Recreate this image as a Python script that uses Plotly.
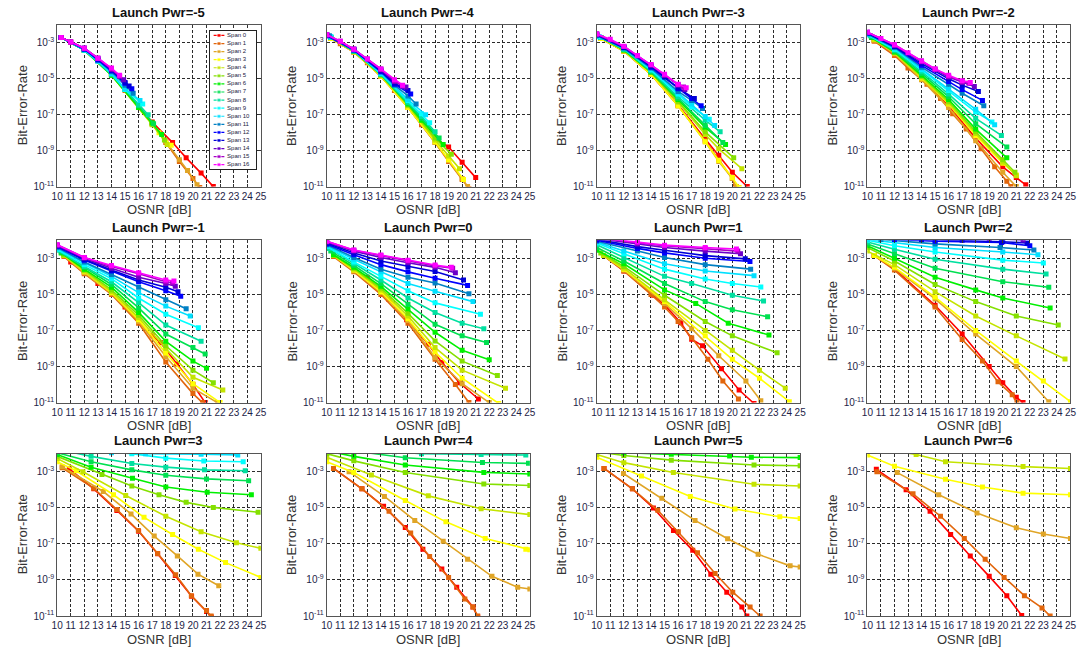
import plotly.graph_objects as go

FIG_W, FIG_H = 1089, 659

LAUNCH_POWERS = [-5, -4, -3, -2, -1, 0, 1, 2, 3, 4, 5, 6]
SPAN_LABELS = ["Span %d" % i for i in range(17)]
SPAN_COLORS = ["#ff0000", "#e2660c", "#e0a526", "#ffff00", "#c4e400", "#84e000",
               "#00f000", "#00e050", "#00e0a0", "#00ffff", "#00e0ff", "#0080c4",
               "#0000ff", "#0000d8", "#6a00c8", "#a800c8", "#ff00ff"]
X_TICKS = list(range(10, 26))
Y_TICK_EXPONENTS = [-11, -9, -7, -5, -3]

# ---------------- data: OSNR [dB] and log10(BER), one list per span (0..16) ----------------
OSNR_PM5 = [
    [10.3, 12, 14, 16, 17, 18.5, 19.5, 20.6, 21.5],
    [10.3, 11, 12, 13, 14, 15, 16, 17, 18, 19, 20, 20.5],
    [10.3, 12, 14, 16, 17, 18, 19, 19.6, 20.3],
    [10.3, 12, 14, 16, 17, 17.5, 18.4],
    [10.3, 12, 14, 16, 17, 18.1],
    [10.3, 12, 14, 16, 17, 17.9],
    [10.3, 12, 14, 16, 17, 17.7],
    [10.3, 12, 14, 15, 16, 17.1],
    [10.3, 12, 14, 15, 16, 16.7],
    [10.3, 12, 13, 14, 15, 16.3],
    [10.3, 12, 13, 14, 15, 16.1],
    [10.3, 12, 13, 14, 15, 15.6],
    [10.3, 12, 13, 14, 15, 15.5],
    [10.3, 12, 13, 14, 15, 15.3],
    [10.3, 11, 12, 13, 14, 14.9],
    [10.3, 11, 12, 13, 14, 14.6],
    [10.3, 11, 12, 13, 14, 14.6],
]
LOGBER_PM5 = [
    [-2.7, -3.4, -4.75, -6.55, -7.4, -8.55, -9.4, -10.25, -11.0],
    [-2.7, -2.95, -3.4, -4.0, -4.75, -5.65, -6.6, -7.5, -8.55, -9.6, -10.55, -11.05],
    [-2.7, -3.4, -4.75, -6.6, -7.5, -8.5, -9.5, -10.1, -10.9],
    [-2.7, -3.4, -4.75, -6.55, -7.5, -8.0, -8.7],
    [-2.7, -3.4, -4.8, -6.6, -7.55, -8.65],
    [-2.7, -3.4, -4.8, -6.6, -7.5, -8.4],
    [-2.7, -3.4, -4.8, -6.6, -7.45, -8.1],
    [-2.7, -3.4, -4.75, -5.6, -6.5, -7.5],
    [-2.7, -3.4, -4.75, -5.6, -6.45, -7.0],
    [-2.7, -3.4, -4.0, -4.7, -5.6, -6.4],
    [-2.7, -3.4, -4.0, -4.7, -5.55, -6.2],
    [-2.7, -3.35, -3.95, -4.6, -5.35, -5.8],
    [-2.7, -3.35, -3.95, -4.55, -5.25, -5.55],
    [-2.7, -3.3, -3.9, -4.5, -5.2, -5.4],
    [-2.7, -2.95, -3.3, -3.85, -4.45, -5.05],
    [-2.7, -2.95, -3.3, -3.85, -4.45, -4.85],
    [-2.7, -2.95, -3.3, -3.85, -4.4, -4.8],
]

OSNR_PM4 = [
    [10.3, 12, 14, 16, 17, 18, 19, 20, 21],
    [10.3, 11, 12, 13, 14, 15, 16, 17, 18, 19, 20, 20.5],
    [10.3, 12, 14, 16, 18, 19, 20, 20.4],
    [10.3, 12, 14, 16, 18, 19, 20.1],
    [10.3, 12, 14, 16, 18, 19, 19.8],
    [10.3, 12, 14, 16, 18, 19.2],
    [10.3, 12, 14, 16, 17, 18.6],
    [10.3, 12, 14, 16, 17, 18.3],
    [10.3, 12, 14, 16, 17, 18],
    [10.3, 12, 14, 16, 17, 17.6],
    [10.3, 12, 14, 16, 17.3],
    [10.2, 12, 14, 15, 16, 16.6],
    [10, 12, 14, 15, 16.2],
    [10, 12, 14, 15, 16],
    [10, 12, 14, 15, 15.85],
    [10, 11, 12, 13, 14, 15, 15.6],
    [10, 11, 12, 13, 14, 15, 15.6],
]
LOGBER_PM4 = [
    [-2.75, -3.5, -4.85, -6.55, -7.45, -8.3, -8.8, -9.65, -10.5],
    [-2.75, -3.05, -3.5, -4.1, -4.85, -5.65, -6.6, -7.55, -8.55, -9.6, -10.6, -11.1],
    [-2.75, -3.5, -4.85, -6.6, -8.55, -9.55, -10.55, -11.0],
    [-2.75, -3.5, -4.85, -6.6, -8.5, -9.5, -10.6],
    [-2.7, -3.45, -4.8, -6.5, -8.4, -9.3, -10.0],
    [-2.7, -3.45, -4.8, -6.45, -8.3, -9.2],
    [-2.7, -3.45, -4.75, -6.4, -7.3, -8.65],
    [-2.7, -3.45, -4.75, -6.35, -7.2, -8.3],
    [-2.7, -3.45, -4.75, -6.3, -7.1, -7.95],
    [-2.65, -3.4, -4.7, -6.2, -6.95, -7.45],
    [-2.65, -3.4, -4.7, -6.15, -7.0],
    [-2.6, -3.4, -4.6, -5.35, -5.95, -6.4],
    [-2.6, -3.4, -4.6, -5.3, -5.85],
    [-2.55, -3.35, -4.55, -5.25, -5.65],
    [-2.55, -3.35, -4.5, -5.15, -5.45],
    [-2.55, -2.9, -3.35, -3.9, -4.45, -5.1, -5.4],
    [-2.55, -2.9, -3.35, -3.9, -4.45, -5.05, -5.35],
]

OSNR_PM3 = [
    [10.3, 12, 14, 16, 18, 19, 20, 21.1],
    [10.3, 12, 14, 16, 18, 19, 20, 20.2],
    [10.3, 12, 14, 16, 18, 19, 20, 20.3],
    [10.3, 12, 14, 16, 18, 19, 20, 20.5],
    [10.3, 12, 14, 16, 18, 19, 20.7],
    [10.3, 12, 14, 16, 18, 20.1],
    [10.3, 12, 14, 16, 18, 19.5],
    [10.3, 12, 14, 16, 18, 19.3],
    [10.3, 12, 14, 16, 18, 19.1],
    [10.2, 12, 14, 16, 17, 18.3],
    [10, 12, 14, 16, 17, 18, 18.7],
    [10, 12, 14, 16, 17, 17.8],
    [10, 12, 14, 16, 17, 17.7],
    [10, 12, 14, 15, 16, 17.2],
    [10, 12, 14, 15, 16, 16.5],
    [10, 12, 13, 14, 15, 16, 16.4],
    [10, 11, 12, 13, 14, 15, 16, 16.6],
]
LOGBER_PM3 = [
    [-2.75, -3.45, -4.75, -6.45, -8.35, -9.25, -10.2, -11.0],
    [-2.75, -3.45, -4.75, -6.5, -8.45, -9.5, -10.55, -11.0],
    [-2.75, -3.45, -4.75, -6.5, -8.5, -9.6, -10.55, -11.0],
    [-2.75, -3.45, -4.75, -6.5, -8.5, -9.55, -10.5, -11.05],
    [-2.7, -3.4, -4.65, -6.3, -8.1, -8.9, -10.0],
    [-2.7, -3.4, -4.65, -6.25, -7.95, -9.4],
    [-2.7, -3.4, -4.6, -6.15, -7.7, -8.65],
    [-2.7, -3.35, -4.6, -6.1, -7.6, -8.55],
    [-2.7, -3.35, -4.55, -6.0, -7.3, -7.95],
    [-2.65, -3.3, -4.5, -5.85, -6.55, -7.25],
    [-2.6, -3.3, -4.45, -5.75, -6.4, -7.1, -7.6],
    [-2.6, -3.3, -4.4, -5.7, -6.2, -6.65],
    [-2.55, -3.25, -4.35, -5.55, -6.1, -6.5],
    [-2.55, -3.25, -4.3, -4.9, -5.5, -6.1],
    [-2.5, -3.2, -4.25, -4.8, -5.35, -5.6],
    [-2.5, -3.2, -3.72, -4.22, -4.78, -5.32, -5.45],
    [-2.5, -2.8, -3.18, -3.7, -4.2, -4.75, -5.3, -5.5],
]

OSNR_PM2 = [
    [10.5, 12, 14, 16, 18, 20, 21, 21.7],
    [10.5, 12, 13, 14.4, 15.4, 16.3, 17.3, 18.4, 19.4, 20.3, 20.6],
    [10.5, 12, 14, 16, 18, 20, 21.0],
    [10.5, 12, 14, 16, 18, 20, 21.0],
    [10.5, 12, 14, 16, 18, 20, 21.0],
    [10.3, 12, 14, 16, 18, 20, 20.9],
    [10.3, 12, 14, 16, 18, 20.3],
    [10.3, 12, 14, 16, 18, 20.3],
    [10.2, 12, 14, 16, 18, 19.9],
    [10, 12, 14, 16, 18, 19.2],
    [10, 12, 14, 16, 18, 19.4],
    [10, 12, 14, 16, 17, 18.6],
    [10, 12, 14, 16, 17, 18.5],
    [10, 12, 14, 16, 17, 18.2],
    [10, 12, 14, 15, 16, 17, 17.9],
    [10, 12, 14, 15, 16, 17, 17.5],
    [10, 11, 12, 13, 14, 15, 16, 17, 17.6],
]
LOGBER_PM2 = [
    [-2.85, -3.6, -5.0, -6.5, -8.3, -9.9, -10.5, -10.9],
    [-2.9, -3.7, -4.4, -5.3, -6.1, -6.95, -7.8, -8.9, -9.9, -10.7, -11.0],
    [-2.85, -3.6, -5.05, -6.6, -8.45, -10.2, -11.0],
    [-2.8, -3.55, -4.95, -6.4, -8.15, -9.7, -10.35],
    [-2.8, -3.55, -4.9, -6.35, -8.05, -9.65, -10.4],
    [-2.7, -3.5, -4.85, -6.25, -7.95, -9.5, -10.2],
    [-2.7, -3.5, -4.8, -6.15, -7.8, -9.4],
    [-2.65, -3.45, -4.7, -6.0, -7.5, -8.8],
    [-2.6, -3.4, -4.6, -5.85, -7.2, -8.15],
    [-2.55, -3.35, -4.5, -5.65, -6.85, -7.4],
    [-2.5, -3.3, -4.45, -5.55, -6.7, -7.55],
    [-2.5, -3.25, -4.35, -5.3, -5.8, -6.5],
    [-2.45, -3.2, -4.25, -5.15, -5.6, -6.2],
    [-2.45, -3.2, -4.15, -5.0, -5.35, -5.7],
    [-2.4, -3.15, -4.05, -4.5, -4.9, -5.2, -5.43],
    [-2.4, -3.1, -4.0, -4.45, -4.85, -5.15, -5.25],
    [-2.4, -2.75, -3.1, -3.55, -4.0, -4.45, -4.8, -5.1, -5.2],
]

OSNR_PM1 = [
    [10.5, 11, 12, 13, 14, 15, 16, 17, 17.6, 18.8, 20, 20.9],
    [10.5, 12, 14, 16, 18, 20, 20.7],
    [10.5, 12, 14, 16, 18, 20, 21.8],
    [10.5, 12, 14, 16, 18, 20, 22],
    [10.5, 12, 14, 16, 18, 20, 22.2],
    [10.5, 12, 14, 16, 18, 20, 21.5],
    [10.3, 12, 14, 16, 18, 20, 21],
    [10.3, 12, 14, 16, 18, 20, 20.9],
    [10, 12, 14, 16, 18, 20.6],
    [10, 12, 14, 16, 18, 20.4],
    [10, 12, 14, 16, 18, 19.8],
    [10, 12, 14, 16, 18, 19.5],
    [10, 12, 14, 16, 18, 19.1],
    [10, 12, 14, 16, 18, 18.9],
    [10, 12, 14, 16, 18, 18.7],
    [10, 12, 14, 16, 18, 18.5],
    [10, 12, 14, 16, 18, 18.6],
]
LOGBER_PM1 = [
    [-2.85, -3.2, -3.8, -4.4, -4.95, -5.7, -6.5, -7.3, -7.67, -8.86, -10.0, -11.0],
    [-2.9, -3.85, -5.0, -6.6, -8.75, -10.5, -11.0],
    [-2.85, -3.8, -4.95, -6.5, -8.45, -10.2, -11.0],
    [-2.85, -3.75, -4.9, -6.4, -8.25, -9.95, -11.0],
    [-2.85, -3.7, -4.85, -6.3, -8.0, -9.6, -10.3],
    [-2.8, -3.65, -4.75, -6.15, -7.85, -9.2, -9.9],
    [-2.7, -3.6, -4.6, -6.0, -7.6, -8.7, -9.1],
    [-2.65, -3.5, -4.45, -5.75, -7.2, -7.95, -8.3],
    [-2.55, -3.45, -4.3, -5.45, -6.7, -7.6],
    [-2.5, -3.35, -4.13, -5.2, -6.1, -6.85],
    [-2.45, -3.25, -4.0, -4.9, -5.65, -6.2],
    [-2.4, -3.2, -3.9, -4.6, -5.3, -5.8],
    [-2.35, -3.1, -3.7, -4.3, -4.8, -5.1],
    [-2.3, -3.05, -3.65, -4.2, -4.6, -4.85],
    [-2.3, -3.0, -3.55, -4.05, -4.4, -4.55],
    [-2.25, -2.95, -3.45, -3.85, -4.3, -4.35],
    [-2.25, -2.95, -3.4, -3.8, -4.2, -4.26],
]

OSNR_P0 = [
    [10.5, 12, 13, 14.6, 15.9, 17.5, 18.5, 19.8, 21.2],
    [10.5, 12, 14, 16, 18, 19.5, 20.5],
    [10.5, 12, 14, 16, 18, 20, 22],
    [10.5, 12, 14, 16, 18, 20, 22.7],
    [10.5, 12, 14, 16, 18, 20, 23.2],
    [10.5, 12, 14, 16, 18, 20, 22.6],
    [10.5, 12, 14, 16, 18, 20, 22],
    [10.3, 12, 14, 16, 18, 20, 21.8],
    [10.2, 12, 14, 16, 18, 20, 21.6],
    [10, 12, 14, 16, 18, 21.35],
    [10, 12, 14, 16, 18, 20.8],
    [10, 12, 14, 16, 18, 20.5],
    [10, 12, 14, 16, 18, 20.4],
    [10, 12, 14, 16, 18, 20.1],
    [10, 12, 14, 16, 18, 19.5],
    [10, 12, 14, 16, 18, 19.3],
    [10, 12, 14, 16, 18, 19.2],
]
LOGBER_P0 = [
    [-2.85, -3.55, -4.05, -5.29, -6.4, -7.76, -8.77, -9.9, -10.8],
    [-2.9, -3.75, -5.0, -6.6, -8.6, -10.0, -11.0],
    [-2.85, -3.7, -4.9, -6.45, -8.5, -9.95, -11.0],
    [-2.85, -3.65, -4.85, -6.35, -8.2, -9.65, -11.05],
    [-2.85, -3.6, -4.75, -6.2, -7.95, -9.2, -10.2],
    [-2.8, -3.55, -4.65, -6.05, -7.58, -8.7, -9.5],
    [-2.8, -3.5, -4.55, -5.8, -7.1, -8.1, -8.62],
    [-2.6, -3.4, -4.4, -5.55, -6.66, -7.3, -7.67],
    [-2.45, -3.3, -4.2, -5.2, -6.0, -6.6, -6.9],
    [-2.35, -3.2, -4.0, -4.8, -5.47, -6.1],
    [-2.3, -3.05, -3.75, -4.4, -4.83, -5.4],
    [-2.25, -2.95, -3.6, -4.05, -4.37, -4.96],
    [-2.2, -2.8, -3.35, -3.75, -4.1, -4.5],
    [-2.15, -2.7, -3.15, -3.45, -3.73, -4.2],
    [-2.1, -2.6, -2.95, -3.25, -3.5, -3.8],
    [-2.05, -2.55, -2.85, -3.15, -3.42, -3.55],
    [-2.05, -2.54, -2.82, -3.1, -3.37, -3.5],
]

OSNR_P1 = [
    [10.5, 12, 14.2, 15.1, 16.2, 17, 17.8, 19.2, 20.5, 21.6],
    [10.5, 12, 14, 15, 16, 17, 18.2, 19.3, 20.45],
    [10.5, 12, 15, 17, 19, 21, 22.1],
    [10.5, 12, 15, 18, 20, 22, 24.2],
    [10.5, 12, 15, 18, 20, 22, 23.9],
    [10.3, 12, 15, 18, 20, 23.3],
    [10, 12, 15, 17.3, 19.7, 22.7],
    [10, 12, 15, 18, 20, 22.6],
    [10, 12, 15, 17, 20, 22.3],
    [10, 12, 15, 18, 20, 22.1],
    [10, 12, 15, 18, 21.6],
    [10, 13, 15, 18, 21.35],
    [10, 13, 15, 18, 21.3],
    [10, 13, 15, 18, 20.95],
    [10, 13, 15, 18, 20.6],
    [10, 13, 15, 18, 20.4],
    [10, 13, 15, 18, 20.3],
]
LOGBER_P1 = [
    [-2.85, -3.7, -5.05, -5.66, -6.57, -7.49, -7.85, -9.13, -10.3, -11.05],
    [-2.85, -3.7, -5.0, -5.7, -6.5, -7.4, -8.6, -9.8, -10.8],
    [-2.85, -3.65, -5.5, -6.9, -8.4, -9.8, -10.9],
    [-2.85, -3.6, -5.4, -7.3, -8.6, -9.65, -10.95],
    [-2.85, -3.55, -5.3, -7.0, -8.1, -9.2, -10.2],
    [-2.7, -3.45, -5.05, -6.5, -7.3, -8.24],
    [-2.55, -3.3, -4.75, -5.5, -6.6, -7.25],
    [-2.4, -3.15, -4.4, -5.4, -5.85, -6.24],
    [-2.25, -2.95, -4.0, -4.4, -5.05, -5.37],
    [-2.15, -2.75, -3.6, -4.15, -4.4, -4.59],
    [-2.1, -2.6, -3.3, -3.7, -3.96],
    [-2.05, -2.6, -2.95, -3.35, -3.6],
    [-2.0, -2.45, -2.7, -3.0, -3.18],
    [-1.95, -2.35, -2.55, -2.85, -3.03],
    [-1.9, -2.2, -2.4, -2.6, -2.75],
    [-1.85, -2.15, -2.3, -2.45, -2.6],
    [-1.85, -2.1, -2.27, -2.4, -2.48],
]

OSNR_P2 = [
    [10.5, 12, 15, 17, 19, 20, 21, 21.5],
    [10.5, 12, 15, 17, 18.5, 19.65, 20.7, 21.05],
    [10.5, 12, 15, 18, 21, 23.4],
    [10.5, 12, 15, 18, 21, 23, 25],
    [10, 12, 15, 18, 21, 24.6],
    [10, 12, 15, 18, 21, 24.1],
    [10, 12, 15, 18, 20, 23.5],
    [10, 12, 15, 20, 23.4],
    [10, 12, 15, 20, 23.2],
    [10, 12, 15, 20, 23],
    [10, 15, 20, 22.6],
    [11, 15, 19.8, 22.3],
    [12, 15, 19.9, 22.0],
    [14, 17, 20, 21.8],
    [19, 21.5],
    [],
    [],
]
LOGBER_P2 = [
    [-2.85, -3.6, -5.6, -7.2, -9.0, -9.9, -10.7, -11.0],
    [-2.85, -3.65, -5.7, -7.5, -8.7, -9.85, -10.57, -11.0],
    [-2.85, -3.55, -5.25, -7.2, -9.0, -10.95],
    [-2.85, -3.5, -5.15, -7.0, -8.7, -9.8, -10.95],
    [-2.6, -3.35, -4.85, -6.2, -7.3, -8.58],
    [-2.4, -3.15, -4.45, -5.4, -6.2, -6.7],
    [-2.3, -3.0, -4.05, -4.75, -5.2, -5.75],
    [-2.2, -2.75, -3.55, -4.3, -4.6],
    [-2.1, -2.5, -3.05, -3.6, -3.87],
    [-2.0, -2.3, -2.65, -3.1, -3.26],
    [-1.95, -2.4, -2.65, -2.8],
    [-1.95, -2.2, -2.4, -2.54],
    [-1.95, -2.05, -2.12, -2.3],
    [-1.95, -2.0, -2.08, -2.15],
    [-1.9, -1.98],
    [],
    [],
]

OSNR_P3 = [
    [10.9, 12.7, 14.4, 16.0, 17.4, 18.7, 19.9, 21.0, 21.35],
    [10.37, 12.7, 14.4, 15.98, 17.4, 18.73, 19.88, 21.0, 21.34],
    [10.37, 13.4, 15.44, 17.15, 18.85, 20.37, 21.9],
    [10, 11.4, 14.15, 16.4, 18.5, 20.4, 22.4, 25],
    [10, 11.9, 15.05, 18, 20.6, 23.2, 25],
    [10, 13.3, 15.5, 17.5, 19.5, 21.5, 24.8],
    [10, 12.5, 15.55, 18, 21.05, 24.3],
    [10, 12.5, 15.5, 18, 21, 24.1],
    [10, 12.5, 15.5, 18, 20.85, 23.85],
    [13, 15.5, 18, 20.8, 23.7],
    [14, 16.5, 20.6, 23.3],
    [], [], [], [], [], [],
]
LOGBER_P3 = [
    [-2.85, -3.95, -5.15, -6.3, -7.55, -8.75, -9.9, -10.75, -11.05],
    [-2.78, -3.92, -5.1, -6.26, -7.54, -8.71, -9.87, -10.7, -11.0],
    [-2.73, -4.1, -5.34, -6.57, -7.67, -8.68, -9.32],
    [-2.45, -2.95, -4.28, -5.53, -6.48, -7.3, -8.04, -8.86],
    [-2.27, -3.0, -4.32, -5.47, -6.33, -6.94, -7.25],
    [-2.15, -3.15, -3.8, -4.28, -4.7, -4.98, -5.25],
    [-2.05, -2.75, -3.37, -3.85, -4.14, -4.28],
    [-1.95, -2.45, -2.9, -3.2, -3.4, -3.5],
    [-1.75, -2.15, -2.55, -2.75, -2.9, -2.95],
    [-1.85, -2.0, -2.25, -2.41, -2.45],
    [-1.95, -2.0, -2.03, -2.07],
    [], [], [], [], [], [],
]

OSNR_P4 = [
    [10.5, 12.6, 14.2, 15.8, 17.1, 18.5, 19.6, 20.8, 21.15],
    [10.5, 12.6, 14.6, 16.2, 17.6, 19.0, 20.2, 20.8, 21.15],
    [11.65, 14.26, 16.5, 18.6, 20.4, 22.2, 24.1, 25],
    [10, 12, 15.8, 18.8, 21.7, 24.7, 25],
    [10, 13.3, 17.5, 21.4, 25],
    [10, 12, 15.8, 21.6, 25],
    [10, 12, 15.8, 21.6, 25],
    [12, 15.8, 21.5, 24.9],
    [15, 17, 21.4, 24.7],
    [], [], [], [], [], [], [], [],
]
LOGBER_P4 = [
    [-2.82, -3.95, -4.92, -6.1, -7.3, -8.4, -9.4, -10.5, -11.05],
    [-2.82, -3.95, -5.2, -6.4, -7.7, -8.86, -10.05, -10.5, -11.0],
    [-3.0, -4.37, -5.7, -6.85, -7.85, -8.8, -9.4, -9.5],
    [-2.45, -3.05, -4.6, -5.78, -6.7, -7.3, -7.32],
    [-2.2, -3.18, -4.34, -5.05, -5.38],
    [-2.0, -2.4, -3.05, -3.68, -3.77],
    [-1.85, -2.15, -2.63, -3.04, -3.13],
    [-1.85, -2.23, -2.49, -2.54],
    [-1.9, -2.0, -2.05, -2.08],
    [], [], [], [], [], [], [], [],
]

OSNR_P5 = [
    [10.54, 12.63, 14.18, 15.66, 17.08, 18.41, 19.59, 20.7, 21.07],
    [10.54, 12.63, 14.5, 16.02, 17.43, 18.73, 20.03, 21.31, 22.05],
    [11.97, 14.8, 17.25, 19.65, 21.9, 24.26, 25],
    [10, 13.3, 16.9, 20.2, 23.5, 25],
    [10, 12, 15.65, 21.6, 25],
    [10, 12, 15.5, 21.6, 25],
    [12, 15.5, 19.8, 21.4, 25],
    [], [], [], [], [], [], [], [], [], [],
]
LOGBER_P5 = [
    [-2.82, -3.95, -5.01, -6.26, -7.36, -8.68, -9.68, -10.5, -11.0],
    [-2.82, -3.95, -5.14, -6.33, -7.49, -8.64, -9.68, -10.5, -11.0],
    [-3.1, -4.47, -5.7, -6.72, -7.58, -8.22, -8.28],
    [-2.2, -3.24, -4.37, -5.07, -5.5, -5.6],
    [-2.05, -2.5, -3.05, -3.7, -3.79],
    [-1.9, -2.1, -2.36, -2.63, -2.67],
    [-1.95, -2.04, -2.13, -2.2, -2.22],
    [], [], [], [], [], [], [], [], [], [],
]

OSNR_P6 = [
    [10.66, 12.86, 14.63, 16.15, 17.6, 19.0, 20.3, 21.4],
    [10.7, 13.37, 15.4, 17.16, 18.7, 20.1, 21.6, 22.9, 23.5],
    [12.2, 15.27, 18.1, 21.0, 23, 25],
    [10, 12, 15.77, 18.5, 21.5, 25],
    [12, 13.6, 15.77, 21.5, 25],
    [], [], [], [], [], [], [], [], [], [], [], [],
]
LOGBER_P6 = [
    [-2.87, -4.0, -5.2, -6.48, -7.67, -8.8, -9.87, -10.97],
    [-3.0, -4.23, -5.47, -6.7, -7.85, -8.86, -9.87, -10.55, -11.0],
    [-3.05, -4.28, -5.29, -6.11, -6.45, -6.7],
    [-2.08, -2.7, -3.42, -3.85, -4.19, -4.28],
    [-1.85, -2.05, -2.45, -2.72, -2.82],
    [], [], [], [], [], [], [], [], [], [], [], [],
]

PANEL_DATA = [
    (OSNR_PM5, LOGBER_PM5), (OSNR_PM4, LOGBER_PM4), (OSNR_PM3, LOGBER_PM3), (OSNR_PM2, LOGBER_PM2),
    (OSNR_PM1, LOGBER_PM1), (OSNR_P0, LOGBER_P0), (OSNR_P1, LOGBER_P1), (OSNR_P2, LOGBER_P2),
    (OSNR_P3, LOGBER_P3), (OSNR_P4, LOGBER_P4), (OSNR_P5, LOGBER_P5), (OSNR_P6, LOGBER_P6),
]

# ---------------- layout geometry (pixels) ----------------
COL_PX = [(51.7, 257.7), (324.3, 529.7), (597.3, 803.0), (871.0, 1076.3)]
ROW_PX = [(25.2, 188.3), (242.5, 406.3), (457.8, 621.7)]
LEGEND_BOX_PX = (206.7, 252.3, 31.3, 170.7)

FONT = "Liberation Sans, Arial, Helvetica, sans-serif"
TICK_COLOR = "#1e1e48"
TEXT_COLOR = "#333333"


def px_x(v):
    return v / FIG_W


def px_y(v):
    return 1 - v / FIG_H


fig = go.Figure()
annotations = []
layout_axes = {}

for p, (osnr, logber) in enumerate(PANEL_DATA):
    r, c = divmod(p, 4)
    k = p + 1
    xs = "" if k == 1 else str(k)
    x0, x1 = COL_PX[c]
    top, bot = ROW_PX[r]
    for s in range(17):
        if not osnr[s]:
            continue
        fig.add_trace(go.Scatter(
            x=osnr[s], y=[10 ** v for v in logber[s]],
            mode="lines+markers", name=SPAN_LABELS[s],
            line=dict(color=SPAN_COLORS[s], width=1.6),
            marker=dict(symbol="square", size=5, color=SPAN_COLORS[s]),
            xaxis="x" + xs, yaxis="y" + xs, showlegend=False, hoverinfo="skip",
        ))
    common = dict(showline=True, mirror="ticks", linecolor="#555555", linewidth=1,
                  ticks="inside", ticklen=3, tickcolor="#333333",
                  showgrid=True, gridcolor="#2a2a2a", gridwidth=1, griddash="3px,2px",
                  zeroline=False, fixedrange=True, tickangle=0,
                  tickfont=dict(family=FONT, size=10, color=TICK_COLOR))
    layout_axes["xaxis" + xs] = dict(
        common, domain=[px_x(x0), px_x(x1)], range=[10, 25],
        tickmode="array", tickvals=X_TICKS, ticktext=[str(t) for t in X_TICKS],
        anchor="y" + xs)
    layout_axes["yaxis" + xs] = dict(
        common, domain=[px_y(bot), px_y(top)], type="log", range=[-11, -2],
        tickmode="array", tickvals=[10.0 ** e for e in Y_TICK_EXPONENTS],
        ticktext=["10<sup>%d</sup>" % e for e in Y_TICK_EXPONENTS],
        anchor="x" + xs)
    cx = (x0 + x1) / 2
    annotations.append(dict(text="<b>Launch Pwr=%d</b>" % LAUNCH_POWERS[p],
                            x=px_x(cx), y=px_y(top - 13), xref="paper", yref="paper",
                            xanchor="center", yanchor="middle", showarrow=False,
                            font=dict(family=FONT, size=13, color="#111111")))
    annotations.append(dict(text="OSNR [dB]", x=px_x(cx), y=px_y(bot + 23.5),
                            xref="paper", yref="paper", xanchor="center", yanchor="middle",
                            showarrow=False, font=dict(family=FONT, size=13, color=TEXT_COLOR)))
    annotations.append(dict(text="Bit-Error-Rate", x=px_x(x0 - 35), y=px_y((top + bot) / 2),
                            xref="paper", yref="paper", xanchor="center", yanchor="middle",
                            textangle=-90, showarrow=False,
                            font=dict(family=FONT, size=13, color=TEXT_COLOR)))

# ---------------- legend box inside the first panel ----------------
lx0, lx1, ly0, ly1 = LEGEND_BOX_PX
for s in range(17):
    fig.add_trace(go.Scatter(
        x=[0, 0.5, 1], y=[s, s, s], mode="lines+markers",
        line=dict(color=SPAN_COLORS[s], width=1.2),
        marker=dict(symbol="square", size=[0, 4, 0], color=SPAN_COLORS[s]),
        xaxis="x13", yaxis="y13", showlegend=False, hoverinfo="skip"))
fig.add_trace(go.Scatter(
    x=[1.25] * 17, y=list(range(17)), text=SPAN_LABELS, mode="text",
    textposition="middle right", textfont=dict(family=FONT, size=6, color="#202040"),
    xaxis="x13", yaxis="y13", showlegend=False, hoverinfo="skip"))
layout_axes["xaxis13"] = dict(domain=[px_x(lx0), px_x(lx1)], range=[-0.3, 3.9],
                              showline=True, mirror=True, linecolor="#222222", linewidth=1,
                              showgrid=False, zeroline=False, showticklabels=False,
                              ticks="", anchor="y13", fixedrange=True)
layout_axes["yaxis13"] = dict(domain=[px_y(ly1), px_y(ly0)], range=[16.55, -0.55],
                              showline=True, mirror=True, linecolor="#222222", linewidth=1,
                              showgrid=False, zeroline=False, showticklabels=False,
                              ticks="", anchor="x13", fixedrange=True)

fig.update_layout(
    width=FIG_W, height=FIG_H, autosize=False,
    margin=dict(l=0, r=0, t=0, b=0),
    paper_bgcolor="white", plot_bgcolor="white",
    showlegend=False, annotations=annotations,
    font=dict(family=FONT),
    **layout_axes,
)

fig.write_html("out.html")
